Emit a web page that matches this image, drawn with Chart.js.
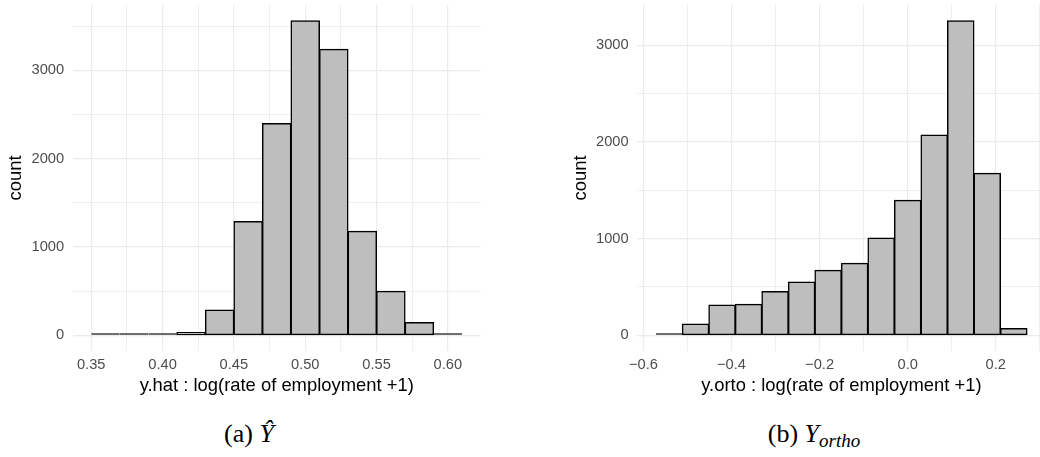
<!DOCTYPE html>
<html>
<head>
<meta charset="utf-8">
<script src="https://cdn.jsdelivr.net/npm/chart.js@4.4.1/dist/chart.umd.min.js"></script>
<style>
  body { margin:0; width:1040px; height:457px; overflow:hidden; background:#fff; position:relative; }
  canvas { position:absolute; top:0; }
  #chartA { left:0; }
  #chartB { left:520px; }
  .caption { position:absolute; top:421px; width:220px; text-align:center; font-family:"Liberation Serif", serif; font-size:26px; line-height:26px; color:#000; white-space:nowrap; }
  .caption sub { font-size:19px; vertical-align:-5px; line-height:0; }
</style>
</head>
<body>
<canvas id="chartA" width="520" height="400"></canvas>
<canvas id="chartB" width="530" height="400"></canvas>
<div class="caption" style="left:139px">(a) <i>Ŷ</i></div>
<div class="caption" style="left:704px">(b) <i>Y</i><sub><i>ortho</i></sub></div>
<script>
//************ données histogramme (a) : y.hat ************//
const yhatBins = [0.36, 0.38, 0.40, 0.42, 0.44, 0.46, 0.48, 0.50, 0.52, 0.54, 0.56, 0.58, 0.60]
const yhatCounts = [2, 8, 3, 31, 287, 1289, 2400, 3563, 3239, 1179, 499, 144, 19]
const yhatTicks = [0.35, 0.40, 0.45, 0.50, 0.55, 0.60]

//************ données histogramme (b) : y.orto ************//
const yortoBins = [-0.5418, -0.4816, -0.4214, -0.3612, -0.301, -0.2408, -0.1806, -0.1204, -0.0602, 0, 0.0602, 0.1204, 0.1806, 0.2408]
const yortoCounts = [5, 117, 314, 321, 452, 552, 673, 745, 1007, 1397, 2073, 3254, 1677, 69]
const yortoTicks = [-0.6, -0.4, -0.2, 0.0, 0.2]

const countTicks = [0, 1000, 2000, 3000]

const sans = '"Liberation Sans", Arial, sans-serif'

function isMajor(v, list) {
    return list.some(t => Math.abs(t - v) < 1e-6)
}

// ticks majeurs + mineurs (milieux) dans l'intervalle de l'axe
function gridTicks(scale, major) {
    const step = (major[1] - major[0]) / 2
    const out = []
    const k0 = Math.ceil(scale.min / step - 1e-9)
    const k1 = Math.floor(scale.max / step + 1e-9)
    for (let k = k0; k <= k1; k++) {
        out.push({ value: Math.round(k * step * 1e6) / 1e6 })
    }
    scale.ticks = out
}

// pas de marge ajoutée par les labels des bords
function noEdgePadding(s) {
    s.paddingTop = 0
    s.paddingBottom = 0
    s.paddingLeft = 0
    s.paddingRight = 0
}

// config commune des deux histogrammes (style ggplot theme_minimal)
function histConfig(bins, counts, xTicks, digits, xTitle, geo) {
    const w = bins[1] - bins[0]
    const lo = bins[0] - w / 2
    const hi = bins[bins.length - 1] + w / 2
    const xPad = (hi - lo) * 0.05
    const yMax = Math.max(...counts)
    return {
        type: 'bar',
        data: {
            datasets: [{
                data: bins.map((b, i) => ({ x: b, y: counts[i] })),
                backgroundColor: '#BEBEBE',
                borderColor: '#000000',
                borderWidth: 1.5,
                borderSkipped: false,
                // barres quasi nulles : trait noir plein comme ggplot
                inflateAmount: ctx => ctx.raw && ctx.raw.y < 25 ? 0 : 0.5,
                minBarLength: 2,
                barPercentage: 1,
                categoryPercentage: 1
            }]
        },
        options: {
            responsive: false,
            animation: false,
            devicePixelRatio: 1,
            layout: { padding: { top: 5, right: geo.padRight, left: 0, bottom: 0 } },
            plugins: { legend: { display: false }, tooltip: { enabled: false } },
            scales: {
                x: {
                    type: 'linear',
                    min: lo - xPad,
                    max: hi + xPad,
                    offset: false,
                    border: { display: false },
                    afterBuildTicks: s => gridTicks(s, xTicks),
                    grid: {
                        offset: false,
                        drawTicks: false,
                        color: '#EBEBEB',
                        lineWidth: ctx => isMajor(ctx.tick.value, xTicks) ? 1.2 : 0.8
                    },
                    ticks: {
                        autoSkip: false,
                        maxRotation: 0,
                        padding: 5,
                        color: '#4D4D4D',
                        font: { family: sans, size: 14.7 },
                        callback: v => isMajor(v, xTicks) ? v.toFixed(digits).replace('-', '\u2212') : ''
                    },
                    title: {
                        display: true,
                        text: xTitle,
                        color: '#000000',
                        font: { family: sans, size: 18.4 },
                        padding: { top: 0, bottom: 3.5 }
                    },
                    afterFit: s => { s.height = 49; noEdgePadding(s) }
                },
                y: {
                    min: -0.05 * yMax,
                    max: 1.05 * yMax,
                    border: { display: false },
                    afterBuildTicks: s => gridTicks(s, countTicks),
                    grid: {
                        drawTicks: false,
                        color: '#EBEBEB',
                        lineWidth: ctx => isMajor(ctx.tick.value, countTicks) ? 1.2 : 0.8
                    },
                    ticks: {
                        autoSkip: false,
                        padding: 8.5,
                        color: '#4D4D4D',
                        font: { family: sans, size: 14.7 },
                        callback: v => isMajor(v, countTicks) ? String(v) : ''
                    },
                    title: {
                        display: true,
                        text: 'count',
                        color: '#000000',
                        font: { family: sans, size: 18.4 },
                        padding: { top: geo.titlePad, bottom: 0 }
                    },
                    afterFit: s => { s.width = geo.yWidth; noEdgePadding(s) }
                }
            }
        }
    }
}

let chartA = new Chart(document.getElementById('chartA'),
    histConfig(yhatBins, yhatCounts, yhatTicks, 2,
        'y.hat : log(rate of employment +1)',
        { yWidth: 72.7, padRight: 39.3, titlePad: 5.3 }))

let chartB = new Chart(document.getElementById('chartB'),
    histConfig(yortoBins, yortoCounts, yortoTicks, 1,
        'y.orto : log(rate of employment +1)',
        { yWidth: 117.2, padRight: 4.4, titlePad: 49.7 }))
</script>
</body>
</html>
